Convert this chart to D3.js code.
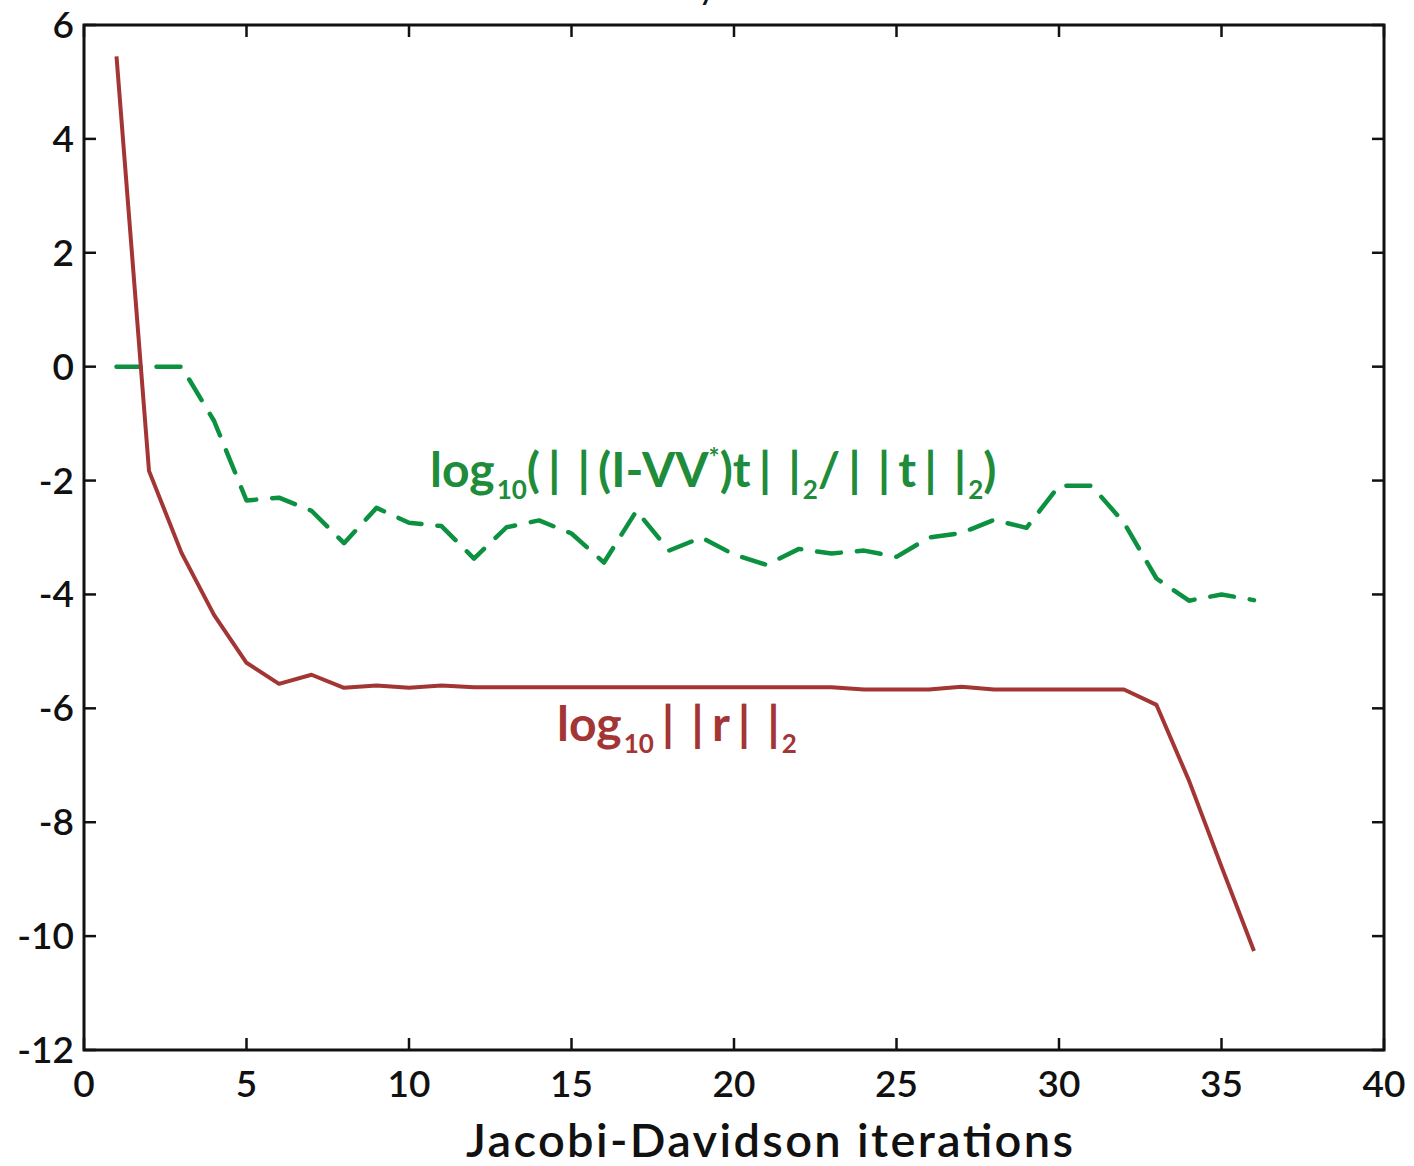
<!DOCTYPE html>
<html><head><meta charset="utf-8">
<script src="https://cdn.jsdelivr.net/npm/d3@7"></script>
<style>body{margin:0;background:#fff}svg{display:block}text{font-family:Lato,"Noto Sans",sans-serif}</style>
</head><body>
<svg id="c" width="1414" height="1166"></svg>
<script>
const iterations = d3.range(1, 37);
const residual = [5.45,-1.83,-3.27,-4.36,-5.2,-5.57,-5.41,-5.64,-5.6,-5.64,-5.6,-5.63,-5.63,-5.63,-5.63,-5.63,-5.63,-5.63,-5.63,-5.63,-5.63,-5.63,-5.63,-5.67,-5.67,-5.67,-5.62,-5.67,-5.67,-5.67,-5.67,-5.67,-5.94,-7.27,-8.78,-10.26];
const projection = [0,0,0,-0.95,-2.35,-2.3,-2.53,-3.1,-2.48,-2.74,-2.8,-3.37,-2.82,-2.7,-2.93,-3.44,-2.53,-3.23,-3.0,-3.3,-3.48,-3.2,-3.28,-3.23,-3.34,-3.0,-2.92,-2.69,-2.83,-2.09,-2.09,-2.74,-3.72,-4.11,-4.0,-4.1];
const xTicks = [0,5,10,15,20,25,30,35,40];
const yTicks = [6,4,2,0,-2,-4,-6,-8,-10,-12];
const xLabel = "Jacobi-Davidson iterations";

const svg = d3.select("#c");
const L = 84, R = 1384, T = 25, B = 1050;
const x = d3.scaleLinear().domain([0,40]).range([L,R]);
const y = d3.scaleLinear().domain([-12,6]).range([B,T]);

// cut-off title remnant (title lies above the visible area)
svg.append("text").attr("x",698).attr("y",-1).attr("font-size",36).attr("fill","#111").text("y");

const tk = 12;
const g = svg.append("g").attr("stroke","#111").attr("stroke-width",2.5);
xTicks.forEach(v=>{
  g.append("line").attr("x1",x(v)).attr("x2",x(v)).attr("y1",B).attr("y2",B-tk);
  g.append("line").attr("x1",x(v)).attr("x2",x(v)).attr("y1",T).attr("y2",T+tk);
});
yTicks.forEach(v=>{
  g.append("line").attr("x1",L).attr("x2",L+tk).attr("y1",y(v)).attr("y2",y(v));
  g.append("line").attr("x1",R).attr("x2",R-tk).attr("y1",y(v)).attr("y2",y(v));
});
svg.append("rect").attr("x",L).attr("y",T).attr("width",R-L).attr("height",B-T)
  .attr("fill","none").attr("stroke","#111").attr("stroke-width",3);

svg.append("g").selectAll("text").data(xTicks).join("text")
  .attr("x",d=>x(d)).attr("y",1097).attr("text-anchor","middle")
  .attr("font-size",37).attr("font-weight",600).attr("fill","#111").text(d=>d);
svg.append("g").selectAll("text").data(yTicks).join("text")
  .attr("x",74).attr("y",d=>y(d)+13).attr("text-anchor","end")
  .attr("font-size",37).attr("font-weight",600).attr("fill","#111").text(d=>d);
svg.append("text").attr("x",466).attr("y",1157)
  .attr("font-size",47).attr("font-weight",600).attr("fill","#111")
  .attr("textLength",607).attr("lengthAdjust","spacing").text(xLabel);

const line = d3.line().x((d,i)=>x(iterations[i])).y(d=>y(d));
svg.append("path").attr("d",line(projection)).attr("fill","none")
  .attr("stroke","#0c9140").attr("stroke-width",4.5).attr("stroke-dasharray","24,16")
  .attr("stroke-linecap","round").attr("stroke-linejoin","round");
svg.append("path").attr("d",line(residual)).attr("fill","none")
  .attr("stroke","#a33535").attr("stroke-width",4).attr("stroke-linejoin","round");

function addParts(t, parts){
  parts.forEach(p=>{
    if (p.k==="bar"){
      t.append("tspan").attr("dx",8).attr("dy",p.dy||0).text("|");
      t.append("tspan").attr("dx",17).text("|");
      return;
    }
    const s = t.append("tspan").text(p.t);
    if (p.k==="sub") s.attr("font-size",26).attr("dy",12).attr("dx",2);
    if (p.k==="sup") s.attr("font-size",26).attr("dy",-20);
    if (p.dy && p.k!=="sub" && p.k!=="sup") s.attr("dy",p.dy);
    if (p.dx) s.attr("dx",p.dx);
  });
}
const gl = svg.append("text").attr("x",430).attr("y",487).attr("font-size",48)
  .attr("font-weight",700).attr("fill","#1e8c3a");
addParts(gl,[{t:"log"},{t:"10",k:"sub"},{t:"(",dy:-12},{k:"bar"},{t:"(I-VV",dx:8},
  {t:"*",k:"sup"},{t:")t",dy:20},{k:"bar"},{t:"2",k:"sub"},{t:"/",dy:-12},
  {k:"bar"},{t:"t",dx:8},{k:"bar"},{t:"2",k:"sub"},{t:")",dy:-12}]);

const rl = svg.append("text").attr("x",557).attr("y",741).attr("font-size",48)
  .attr("font-weight",700).attr("fill","#a33535");
addParts(rl,[{t:"log"},{t:"10",k:"sub"},{k:"bar",dy:-12},{t:"r",dx:8},{k:"bar"},{t:"2",k:"sub"}]);
</script>
</body></html>
